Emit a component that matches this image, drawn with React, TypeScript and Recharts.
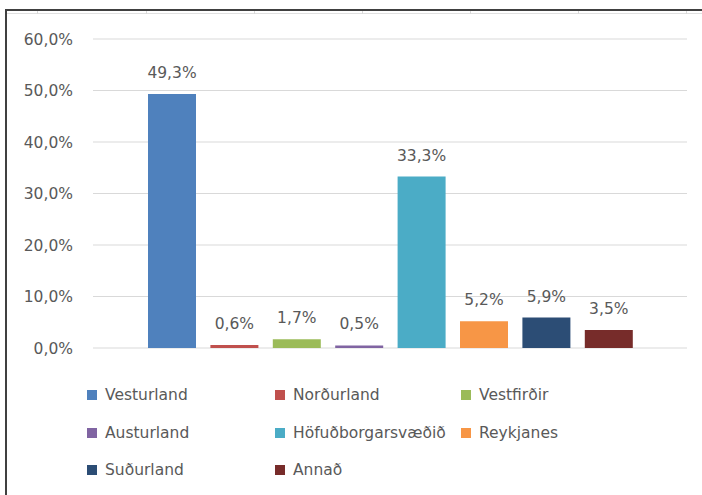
import React from 'react';
import { BarChart, Bar, XAxis, YAxis, CartesianGrid, LabelList, Legend } from 'recharts';

const regions = ['Vesturland', 'Norðurland', 'Vestfirðir', 'Austurland', 'Höfuðborgarsvæðið', 'Reykjanes', 'Suðurland', 'Annað'];
const shares = [49.3, 0.6, 1.7, 0.5, 33.3, 5.2, 5.9, 3.5];
const colors = ['#4F81BD', '#C0504D', '#9BBB59', '#8064A2', '#4BACC6', '#F79646', '#2C4D75', '#772C2A'];
const yTicks = [0, 10, 20, 30, 40, 50, 60];

const data = [
  regions.reduce((row: Record<string, number | string>, name, i) => {
    row[name] = shares[i];
    return row;
  }, { group: 'all' } as Record<string, number | string>),
];

const FONT = '"DejaVu Sans", Verdana, sans-serif';
const TEXT = '#595959';

const fmt = (v: number) => v.toFixed(1).replace('.', ',') + '%';

const legendCols = [87, 275, 461];
const legendRows = [25, 63, 100];

const renderLegend = () => {
  return (
    <svg width={702} height={120} style={{ display: 'block' }}>
      {regions.map((name, i) => {
        const col = i % 3;
        const row = Math.floor(i / 3);
        const x = legendCols[col];
        const base = legendRows[row];
        return (
          <g key={name}>
            <rect x={x} y={base - 10} width={10} height={10} fill={colors[i]} />
            <text x={x + 18} y={base} fontFamily={FONT} fontSize={15.5} fill={TEXT}>
              {name}
            </text>
          </g>
        );
      })}
    </svg>
  );
};

const sheetTicks = [37, 146, 254, 362, 470, 578, 686];

export default function App() {
  return (
    <div style={{ position: 'absolute', left: 0, top: 0, width: 702, height: 495, background: '#fff', overflow: 'hidden' }}>
      <div style={{ position: 'absolute', left: 7, top: 13, width: 695, height: 1, background: '#e0e0e0' }} />
      {sheetTicks.map((x) => (
        <div key={x} style={{ position: 'absolute', left: x, top: 11, width: 1, height: 3, background: '#d9d9d9' }} />
      ))}
      <div style={{ position: 'absolute', left: 5, top: 9, width: 697, height: 2, background: '#404040' }} />
      <div style={{ position: 'absolute', left: 5, top: 9, width: 2, height: 486, background: '#404040' }} />
      <div style={{ position: 'absolute', left: 0, top: 0 }}>
        <BarChart
          width={702}
          height={495}
          data={data}
          margin={{ top: 39, right: 15, bottom: 147, left: 0 }}
          barGap={14.4}
          barSize={48}
        >
          <CartesianGrid vertical={false} stroke="#D9D9D9" strokeWidth={1} />
          <XAxis dataKey="group" hide />
          <YAxis
            width={93}
            domain={[0, 60]}
            ticks={yTicks}
            tickFormatter={fmt}
            axisLine={false}
            tickLine={false}
            tickSize={0}
            tickMargin={20}
            tick={{ fill: TEXT, fontSize: 15.5, fontFamily: FONT }}
          />
          <Legend
            layout="vertical"
            align="center"
            verticalAlign="middle"
            wrapperStyle={{ left: 0, top: 375, width: 702, height: 120 }}
            content={renderLegend}
          />
          {regions.map((name, i) => (
            <Bar key={name} dataKey={name} name={name} fill={colors[i]} isAnimationActive={false}>
              <LabelList
                dataKey={name}
                position="top"
                offset={16}
                formatter={(v: any) => fmt(Number(v))}
                style={{ fill: TEXT, fontSize: 15.5, fontFamily: FONT }}
              />
            </Bar>
          ))}
        </BarChart>
      </div>
    </div>
  );
}
